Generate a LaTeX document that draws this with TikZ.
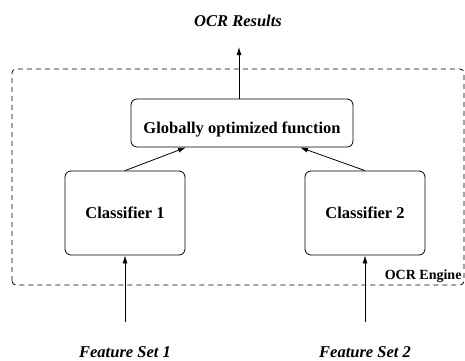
\documentclass[tikz,border=0pt]{standalone}
\usepackage{fontspec}
\setmainfont{Liberation Serif}
\usetikzlibrary{arrows.meta}
\tikzset{
  box/.style={draw, line width=0.8pt, rounded corners=6pt, font=\fontsize{16.5}{19}\selectfont\bfseries},
  lbl/.style={font=\fontsize{16.5}{19}\selectfont\bfseries\itshape},
  arr/.style={-{Latex[length=8pt,width=5pt]}, line width=0.8pt},
}
\begin{document}
\begin{tikzpicture}[x=1pt, y=1pt]
\useasboundingbox (0,0) rectangle (465,360);
% engine frame
\draw[line width=0.8pt, dash pattern=on 5pt off 4pt, rounded corners=4pt] (12,75) rectangle (464,291);
\node[font=\fontsize{14}{16}\selectfont\bfseries, anchor=east] (eng) at (465,84) {OCR Engine};
\node[box, minimum width=222pt, minimum height=48pt, text height=25pt, text depth=4pt] (glob) at (242,237) {Globally optimized function};
\node[box, minimum width=120pt, minimum height=84pt] (cls1) at (125,147) {Classifier 1};
\node[box, minimum width=120pt, minimum height=84pt] (cls2) at (365,147) {Classifier 2};
\node[lbl] (res) at (238,339) {OCR Results};
\node[lbl] (fs1) at (125,8) {Feature Set 1};
\node[lbl] (fs2) at (365,8) {Feature Set 2};
\coordinate (out) at (239,313);
\coordinate (in1) at (125,38);
\coordinate (in2) at (365,38);
\draw[arr] (glob.north -| out) -- (out);
\draw[arr] (cls1.north) -- ([xshift=-56pt]glob.south);
\draw[arr] (cls2.north) -- ([xshift=58pt]glob.south);
\draw[arr] (in1) -- (cls1.south);
\draw[arr] (in2) -- (cls2.south);
\end{tikzpicture}
\end{document}
